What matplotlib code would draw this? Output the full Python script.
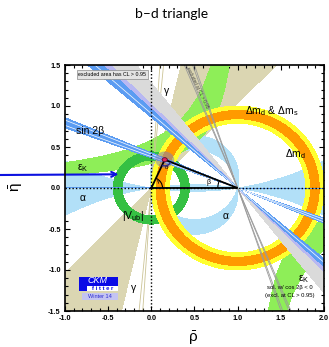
import numpy as np
import matplotlib
matplotlib.use('Agg')
import matplotlib.pyplot as plt
from matplotlib.patches import Arc, Ellipse, Rectangle
from matplotlib.ticker import MultipleLocator, FormatStrFormatter

plt.rcParams['font.family'] = ['Liberation Sans', 'DejaVu Sans']
plt.rcParams['mathtext.fontset'] = 'custom'
plt.rcParams['mathtext.rm'] = 'Liberation Sans'
plt.rcParams['mathtext.it'] = 'Liberation Sans:italic'
plt.rcParams['axes.unicode_minus'] = False

# ---- constraint values (rho-bar, eta-bar plane) ----
apex = (0.155, 0.345)
gamma_wedge = [46.0, 77.0]          # deg, line through origin
gamma_lines = [84.6, 86.2]
alpha_horn = 9.0                     # alpha < 9 deg (and > 171)
alpha_upper = [76.0, 94.0]           # eta > 0 solution
alpha_lower = [83.0, 105.0]          # eta < 0 solution
ek_pole = 1.13
ek_band = [0.34, 0.66]               # eta*(pole - rho)
vub_band = [0.34, 0.44]              # radius around (0,0)
dmd_band = [0.79, 1.00]              # radius around (1,0)
dms_band = [0.845, 0.945]
s2b_band = [20.2, 23.2]              # deg, line through (1,0)
s2b_white = [20.9, 22.5]
b42_band = [40.8, 43.8]
b42_halo = [43.5, 45.5]
b42_gray = [45.0, 52.0]
cos2b_lines = [67.6, 68.3, 70.8, 71.5]

xticks = [-1.0, -0.5, 0.0, 0.5, 1.0, 1.5, 2.0]
yticks = [-1.5, -1.0, -0.5, 0.0, 0.5, 1.0, 1.5]

c_tan = '#dbd6b2'
c_ek = '#8eee58'
c_vub = '#35c043'
c_yel = '#ffff30'
c_org = '#ff9a00'
c_alpha = '#b2e0f8'
c_blue = '#5b9cf2'
c_lav = '#b8b8f2'
c_gray = '#dadada'

W, H = 329, 347
fig = plt.figure(figsize=(W / 100, H / 100), dpi=100)
ax = fig.add_axes([65 / W, 1 - 311 / H, 259 / W, 246 / H])

rho = np.linspace(-1, 2, 1000)
eta = np.linspace(-1.5, 1.5, 1000)
R, E = np.meshgrid(rho, eta)

r0 = np.hypot(R, E)
r1 = np.hypot(R - 1, E)
phi0 = np.degrees(np.arctan2(E, R)) % 180
psi1 = np.degrees(np.arctan2(E, 1 - R)) % 180
alpha = np.degrees(np.arctan2(np.abs(E), E ** 2 - R * (1 - R)))
ek = E * (ek_pole - R)


def band(field, lo, hi, color, z):
    ax.contourf(R, E, field, levels=[lo, hi], colors=[color], zorder=z)


band(phi0, gamma_wedge[0], gamma_wedge[1], c_tan, 1)
band(alpha, -1, alpha_horn, c_alpha, 2)
band(alpha, 180 - alpha_horn, 181, c_alpha, 2)
band(np.ma.masked_where(E < 0, alpha), alpha_upper[0], alpha_upper[1], c_alpha, 2)
band(np.ma.masked_where(E > 0, alpha), alpha_lower[0], alpha_lower[1], c_alpha, 2)
band(ek, ek_band[0], ek_band[1], c_ek, 3)
band(r0, vub_band[0], vub_band[1], c_vub, 4)
band(r1, dmd_band[0], dmd_band[1], c_yel, 5)
band(r1, dms_band[0], dms_band[1], c_org, 6)
band(psi1, b42_gray[0], b42_gray[1], c_gray, 7)
band(psi1, b42_halo[0], b42_halo[1], c_lav, 7.5)
band(psi1, b42_band[0], b42_band[1], c_blue, 8)
band(psi1, s2b_band[0], s2b_band[1], c_blue, 8)

t = np.array([-4.0, 4.0])
for a in gamma_lines:
    ax.plot(t * np.cos(np.radians(a)), t * np.sin(np.radians(a)),
            color='#cbc395', lw=0.6, zorder=3)
for a in s2b_white + [42.2]:
    ax.plot(1 - t * np.cos(np.radians(a)), t * np.sin(np.radians(a)),
            color='white', lw=0.5, zorder=8.5)
for a in cos2b_lines:
    ax.plot(1 - t * np.cos(np.radians(a)), t * np.sin(np.radians(a)),
            color='#9a9a9a', lw=0.6, zorder=9)

# axes through origin
ax.axhline(0, color='black', ls=(0, (1, 1.5)), lw=1.0, zorder=10)
ax.axvline(0, color='black', ls=(0, (1, 1.5)), lw=1.0, zorder=10)

# fit region at apex
ax.add_patch(Ellipse(apex, 0.22, 0.2, facecolor='#7f84b8', alpha=0.55,
                     edgecolor='none', zorder=11))
ax.add_patch(Ellipse(apex, 0.06, 0.05, facecolor='#e3245e',
                     edgecolor='#5a0a2a', lw=0.6, zorder=13))

# unitarity triangle
ax.plot([0, apex[0], 1, 0], [0, apex[1], 0, 0], color='black', lw=1.3,
        zorder=12, solid_joinstyle='miter')
g_ang = np.degrees(np.arctan2(apex[1], apex[0]))
b_ang = np.degrees(np.arctan2(apex[1], 1 - apex[0]))
ax.add_patch(Arc((0, 0), 0.26, 0.26, theta1=0, theta2=g_ang, color='black',
                 lw=0.8, zorder=12))
ax.add_patch(Arc((1, 0), 0.46, 0.46, theta1=180 - b_ang, theta2=180,
                 color='black', lw=0.8, zorder=12))
ax.add_patch(Arc(apex, 0.15, 0.15, theta1=180 + g_ang, theta2=360 - b_ang,
                 color='#242494', lw=0.9, zorder=12))
ax.text(0.06, 0.06, 'γ', fontsize=4, zorder=12)
ax.text(0.17, 0.235, 'α', fontsize=4, ha='center', zorder=12)
ax.text(0.66, 0.065, 'β', fontsize=5, ha='center', va='center', zorder=12)

# constraint labels
lab = dict(fontsize=7.5, ha='center', va='center', zorder=14)
ax.text(0.18, 1.18, 'γ', **lab)
ax.text(-0.205, -1.215, 'γ', **lab)
ax.text(-0.71, 0.70, 'sin 2β', **lab)
ax.text(-0.80, 0.24, r'$\mathrm{ε}_\mathrm{K}$', **lab)
ax.text(1.76, -1.11, r'$\mathrm{ε}_\mathrm{K}$', **lab)
ax.text(-0.80, -0.12, 'α', **lab)
ax.text(0.86, -0.34, 'α', **lab)
ax.text(-0.21, -0.34, r'$|\mathrm{V}_\mathrm{ub}|$', **lab)
ax.text(1.67, 0.41, r'$\Delta\mathrm{m}_\mathrm{d}$', **lab)
ax.text(1.40, 0.94, r'$\Delta\mathrm{m}_\mathrm{d}$ & $\Delta\mathrm{m}_\mathrm{s}$', **lab)

ax.text(-0.45, 1.385, 'excluded area has CL > 0.95', fontsize=3.8,
        ha='center', va='center', zorder=14,
        bbox=dict(boxstyle='square,pad=0.35', facecolor='#e4e4e4',
                  edgecolor='#8a8a8a', lw=0.5))
ax.text(0.53, 1.22, 'excluded at CL > 0.95', fontsize=3.3, rotation=-64,
        ha='center', va='center', color='#444444', zorder=14)
ax.text(1.6, -1.21, 'sol. w/ cos 2β < 0', fontsize=4.2, ha='center',
        va='center', zorder=14)
ax.text(1.6, -1.31, '(excl. at CL > 0.95)', fontsize=4.2, ha='center',
        va='center', zorder=14)

# CKMfitter logo
ax.add_patch(Rectangle((-0.84, -1.195), 0.45, 0.115, facecolor='#0a0ae6',
                       edgecolor='none', zorder=14))
ax.add_patch(Rectangle((-0.84, -1.26), 0.09, 0.065, facecolor='#0a0ae6',
                       edgecolor='none', zorder=14))
ax.add_patch(Rectangle((-0.75, -1.25), 0.36, 0.055, facecolor='white',
                       edgecolor='none', zorder=14))
ax.add_patch(Rectangle((-0.84, -1.262), 0.45, 0.012, facecolor='#0a0ae6',
                       edgecolor='none', zorder=14))
ax.add_patch(Rectangle((-0.80, -1.37), 0.41, 0.09, facecolor='#c4c4f2',
                       edgecolor='none', zorder=14))
ax.text(-0.62, -1.132, 'CKM', color='white', fontsize=6.5, style='italic',
        ha='center', va='center', zorder=15)
ax.text(-0.56, -1.226, 'f i t t e r', color='#0a0ae6', fontsize=4.2,
        fontweight='bold', ha='center', va='center', zorder=15)
ax.text(-0.6, -1.325, 'Winter 14', color='#2a2ad0', fontsize=4,
        ha='center', va='center', zorder=15)

# arrow from the page margin
ax.annotate('', xy=(-0.38, 0.167), xycoords='data',
            xytext=(0.0, 1 - 175 / H), textcoords='figure fraction',
            arrowprops=dict(arrowstyle='->', color='#0c12e0', lw=1.5,
                            mutation_scale=9, shrinkA=0, shrinkB=0),
            annotation_clip=False, zorder=20)

ax.set_xlim(-1, 2)
ax.set_ylim(-1.5, 1.5)
ax.set_xticks(xticks)
ax.set_yticks(yticks)
ax.xaxis.set_minor_locator(MultipleLocator(0.1))
ax.yaxis.set_minor_locator(MultipleLocator(0.1))
ax.xaxis.set_major_formatter(FormatStrFormatter('%.1f'))
ax.yaxis.set_major_formatter(FormatStrFormatter('%.1f'))
ax.tick_params(which='both', direction='in', top=True, right=True,
               labelsize=5.2, width=0.8, pad=3)
ax.tick_params(which='major', length=3.8)
ax.tick_params(which='minor', length=2.0)
for lb in ax.get_xticklabels() + ax.get_yticklabels():
    lb.set_fontweight('bold')
for s in ax.spines.values():
    s.set_linewidth(1.2)
    s.set_zorder(30)

fig.text(193 / W, 1 - 338 / H, r'$\bar{\mathrm{ρ}}$', fontsize=11,
         ha='center', va='center')
fig.text(16 / W, 1 - 187 / H, r'$\bar{\mathrm{η}}$', fontsize=11,
         ha='center', va='center', rotation=90)
fig.text(0.521, 1 - 14 / H, 'b–d triangle', fontsize=10, family='Lato',
         ha='center', va='center')

fig.savefig('out.png', dpi=100)
